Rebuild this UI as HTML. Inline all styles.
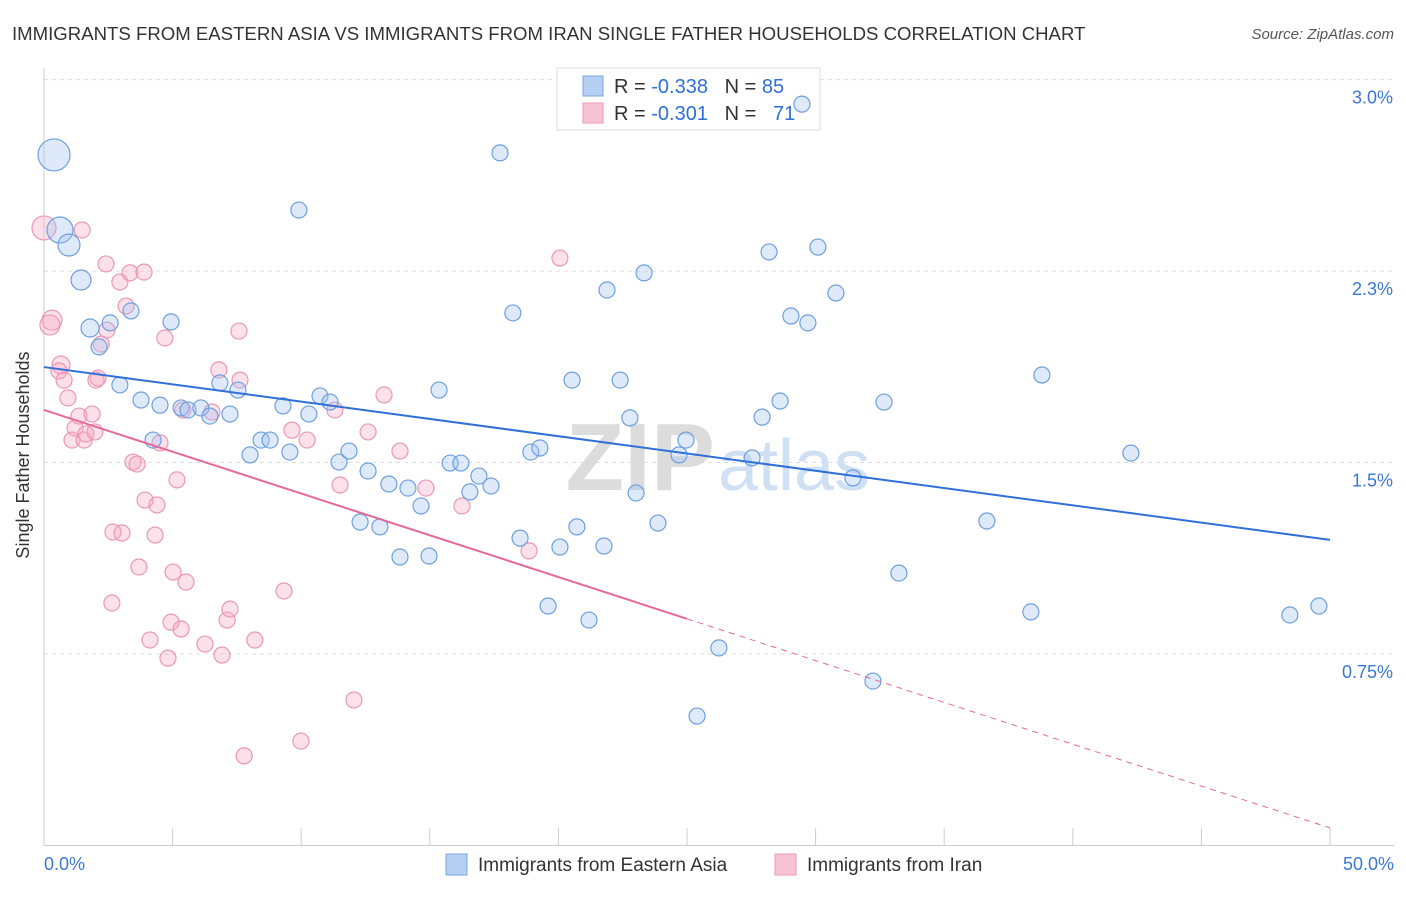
<!DOCTYPE html>
<html><head><meta charset="utf-8"><style>
body{margin:0;background:#fff;font-family:"Liberation Sans",sans-serif;}
svg text{font-family:"Liberation Sans",sans-serif;white-space:pre;}
</style></head><body>
<svg id="chart" width="1406" height="892" viewBox="0 0 1406 892" xmlns="http://www.w3.org/2000/svg">
<text x="12" y="40" font-size="18.6" fill="#333">IMMIGRANTS FROM EASTERN ASIA VS IMMIGRANTS FROM IRAN SINGLE FATHER HOUSEHOLDS CORRELATION CHART</text>
<text x="1394" y="39" font-size="15" fill="#555" font-style="italic" text-anchor="end">Source: ZipAtlas.com</text>
<g id="grid"></g>
<g id="axes"></g>
<text x="715" y="490" font-size="96" fill="#dcdcdc" text-anchor="end" font-weight="bold">ZIP</text>
<text x="718" y="490" font-size="72" fill="#cfdff4">atlas</text>
<g>
<rect x="557" y="68" width="263" height="62" fill="#fff" stroke="#ddd"/>
<rect x="583" y="76" width="20" height="20" fill="#b5cff3" stroke="#7aa6e3"/>
<rect x="583" y="103" width="20" height="20" fill="#f8c3d3" stroke="#ec9ab4"/>
<text x="614" y="93" font-size="20" fill="#333" xml:space="preserve">R = <tspan fill="#2f6fd8">-0.338</tspan>   N = <tspan fill="#2f6fd8">85</tspan></text>
<text x="614" y="120" font-size="20" fill="#333" xml:space="preserve">R = <tspan fill="#2f6fd8">-0.301</tspan>   N =  <tspan fill="#2f6fd8"> 71</tspan></text>
</g>
<g id="pts"></g>
<g id="lines"></g>
<text x="29" y="455" font-size="18" fill="#333" text-anchor="middle" transform="rotate(-90 29 455)">Single Father Households</text>
<g>
<rect x="446" y="854" width="21" height="21" fill="#b5cff3" stroke="#7aa6e3"/>
<text x="478" y="871" font-size="19" fill="#333">Immigrants from Eastern Asia</text>
<rect x="775" y="854" width="21" height="21" fill="#f8c3d3" stroke="#ec9ab4"/>
<text x="807" y="871" font-size="19" fill="#333">Immigrants from Iran</text>
</g>
</svg>
<script>
const blueX=[0.39,0.62,0.97,1.44,1.79,2.14,2.57,2.95,3.38,3.77,4.24,4.51,4.94,5.33,5.60,6.10,6.45,6.84,7.23,7.54,8.01,8.44,8.79,9.29,9.56,9.91,10.30,10.73,11.12,11.47,11.86,12.29,12.60,13.06,13.41,13.84,14.15,14.66,14.97,15.36,15.79,16.21,16.56,16.91,17.38,17.73,18.23,18.51,18.93,19.28,19.60,20.06,20.53,20.72,21.19,21.77,21.89,22.40,22.78,23.02,23.33,23.87,24.69,24.96,25.39,26.24,27.53,27.92,28.19,28.62,29.04,29.47,29.70,30.09,30.79,31.45,32.23,32.66,33.24,36.66,38.37,38.80,42.26,48.44,49.57];
const blueY=[2.705,2.411,2.352,2.215,2.027,1.953,2.047,1.804,2.094,1.745,1.588,1.725,2.051,1.714,1.706,1.714,1.682,1.812,1.690,1.784,1.530,1.588,1.588,1.722,1.541,2.489,1.690,1.761,1.737,1.502,1.545,1.267,1.467,1.248,1.416,1.130,1.400,1.330,1.134,1.784,1.498,1.498,1.385,1.447,1.408,2.713,2.086,1.204,1.541,1.557,0.938,1.169,1.823,1.248,0.883,1.173,2.176,1.823,1.675,1.381,2.243,1.263,1.530,1.588,0.507,0.774,1.518,1.678,2.325,1.741,2.074,2.904,2.047,2.344,2.164,1.440,0.644,1.737,1.067,1.271,0.915,1.843,1.537,0.903,0.938];
const blueR=[16,13,11,10,9,8,8,8,8,8,8,8,8,8,8,8,8,8,8,8,8,8,8,8,8,8,8,8,8,8,8,8,8,8,8,8,8,8,8,8,8,8,8,8,8,8,8,8,8,8,8,8,8,8,8,8,8,8,8,8,8,8,8,8,8,8,8,8,8,8,8,8,8,8,8,8,8,8,8,8,8,8,8,8,8];
const pinkX=[0.0,0.31,0.23,0.66,0.58,0.78,0.93,1.09,1.21,1.36,1.48,1.56,1.63,1.87,1.98,2.02,2.10,2.22,2.41,2.45,2.64,2.68,2.95,3.03,3.19,3.34,3.46,3.62,3.69,3.89,3.93,4.39,4.12,4.32,4.51,4.70,4.82,4.94,5.02,5.17,5.33,5.40,5.52,6.26,6.53,6.80,6.92,7.12,7.23,7.58,7.62,7.78,8.20,9.33,9.64,9.99,10.23,11.31,11.51,12.05,12.60,13.22,13.84,14.85,16.25,18.86,20.06];
const pinkY=[2.419,2.058,2.039,1.882,1.859,1.823,1.753,1.588,1.635,1.682,2.411,1.588,1.612,1.690,1.620,1.823,1.831,1.964,2.278,2.019,0.950,1.228,2.207,1.224,2.113,2.243,1.502,1.494,1.091,2.246,1.353,1.334,0.805,1.216,1.577,1.988,0.734,0.875,1.071,1.432,0.848,1.706,1.032,0.789,1.698,1.863,0.746,0.883,0.926,2.015,1.823,0.351,0.805,0.997,1.627,0.409,1.588,1.706,1.412,0.570,1.620,1.765,1.545,1.400,1.330,1.154,2.301];
const pinkR=[12,10,10,9,8,8,8,8,8,8,8,8,8,8,8,8,8,8,8,8,8,8,8,8,8,8,8,8,8,8,8,8,8,8,8,8,8,8,8,8,8,8,8,8,8,8,8,8,8,8,8,8,8,8,8,8,8,8,8,8,8,8,8,8,8,8,8];
const yTicks=[0.75,1.5,2.25,3.0];
const yTickLabels=["0.75%","1.5%","2.3%","3.0%"];
const blueTrend=[[0,1.874],[50,1.197]];
const pinkTrend=[[0,1.706],[25,0.888],[50,0.069]];

const NS="http://www.w3.org/2000/svg";
const X0=44,X1=1330,Y0=845.5,PXV=255.3;
const sx=v=>X0+(X1-X0)*v/50, sy=v=>Y0-v*PXV;
function mk(tag,attrs,parent){const e=document.createElementNS(NS,tag);for(const k in attrs)e.setAttribute(k,attrs[k]);parent.appendChild(e);return e;}
const grid=document.getElementById('grid'),axes=document.getElementById('axes');
yTicks.forEach((t,i)=>{
  const g=mk('line',{x1:X0,x2:1394,y1:sy(t),y2:sy(t),stroke:'#ddd','stroke-dasharray':'4,4'},grid);
  
  
  const l=mk('text',{x:1393,y:sy(t)+24,'font-size':18,fill:'#3a78d8','text-anchor':'end'},axes);
  l.textContent=yTickLabels[i];
  
  
});
mk('line',{x1:X0,x2:X0,y1:68,y2:Y0,stroke:'#ccc'},axes);
mk('line',{x1:X0,x2:1394,y1:Y0,y2:Y0,stroke:'#ccc'},axes);
for(let i=0;i<=10;i++){const t=mk('line',{x1:sx(i*5),x2:sx(i*5),y1:828,y2:Y0,stroke:'#ccc'},axes);
  
  }
const xl=mk('text',{x:44,y:870,'font-size':18,fill:'#3a78d8'},axes);xl.textContent='0.0%';


const xr=mk('text',{x:1394,y:870,'font-size':18,fill:'#3a78d8','text-anchor':'end'},axes);xr.textContent='50.0%';


const pts=document.getElementById('pts');
pinkX.forEach((x,i)=>{const c=mk('circle',{cx:sx(x),cy:sy(pinkY[i]),r:pinkR[i],fill:'rgba(245,170,195,0.35)',stroke:'#eb97b3','stroke-width':1.2},pts);
  
  });
blueX.forEach((x,i)=>{const c=mk('circle',{cx:sx(x),cy:sy(blueY[i]),r:blueR[i],fill:'rgba(160,195,240,0.35)',stroke:'#6d9fe0','stroke-width':1.2},pts);
  
  });
const lines=document.getElementById('lines');
const bl=mk('line',{x1:sx(blueTrend[0][0]),y1:sy(blueTrend[0][1]),x2:sx(blueTrend[1][0]),y2:sy(blueTrend[1][1]),stroke:'#2f6fd8','stroke-width':2},lines);


const pl=mk('line',{x1:sx(pinkTrend[0][0]),y1:sy(pinkTrend[0][1]),x2:sx(pinkTrend[1][0]),y2:sy(pinkTrend[1][1]),stroke:'#e5699a','stroke-width':2},lines);


const pd=mk('line',{x1:sx(pinkTrend[1][0]),y1:sy(pinkTrend[1][1]),x2:sx(pinkTrend[2][0]),y2:sy(pinkTrend[2][1]),stroke:'#e5699a','stroke-width':1,'stroke-dasharray':'6,5'},lines);


</script>
</body></html>
